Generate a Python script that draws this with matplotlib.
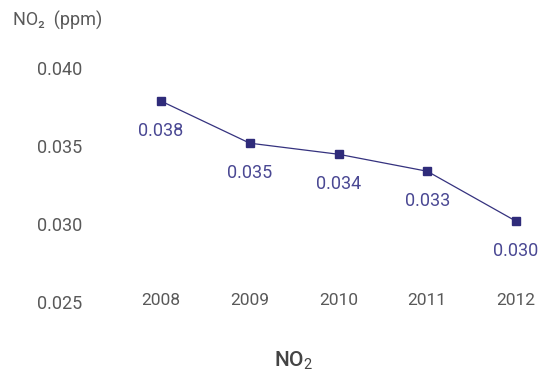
import matplotlib.pyplot as plt

plt.rcParams['font.family'] = ['Roboto', 'DejaVu Sans']
plt.rcParams['mathtext.fontset'] = 'custom'
plt.rcParams['mathtext.rm'] = 'Roboto'
plt.rcParams['mathtext.bf'] = 'Roboto:medium'

years = ['2008', '2009', '2010', '2011', '2012']
no2_ppm = [0.0379, 0.0352, 0.03449, 0.0334, 0.0302]
y_ticks = [0.025, 0.030, 0.035, 0.040]

W, H = 541, 375
fig = plt.figure(figsize=(W / 100, H / 100), dpi=100)

# axes box in pixels: left 100, right 530, top at 0.040, bottom at 0.025
left, right, top, bottom = 100, 530, 68.3, 302.3
ax = fig.add_axes([left / W, 1 - bottom / H, (right - left) / W, (bottom - top) / H])

xs = list(range(len(years)))
ax.plot(xs, no2_ppm, color='#35327f', lw=0.9, marker='s', markersize=6,
        markerfacecolor='#2f2b7a', markeredgecolor='#2f2b7a', clip_on=False)

for x, v in zip(xs, no2_ppm):
    ax.annotate('%.3f' % v, (x, v), xytext=(0, -21.5), textcoords='offset points',
                ha='center', va='center', fontsize=13, color='#4a4893')

# category spacing ~88.75 px, first point at x=161
step = 88.75
x0 = -(161 - left) / step
ax.set_xlim(x0, x0 + (right - left) / step)
ax.set_ylim(0.025, 0.040)

ax.set_xticks(xs)
ax.set_xticklabels(years)
ax.set_yticks(y_ticks)
ax.set_yticklabels(['%.3f' % t for t in y_ticks])
ax.tick_params(axis='y', length=0, pad=13, labelsize=13, labelcolor='#595959')
ax.tick_params(axis='x', length=0, pad=-7, labelsize=12.5, labelcolor='#595959')

for s in ax.spines.values():
    s.set_visible(False)
ax.patch.set_visible(False)

fig.text(13 / W, 1 - 20 / H, 'NO\u2082  (ppm)', ha='left', va='center',
         fontsize=13, color='#595959')
fig.text(294 / W, 1 - 361 / H, 'NO$_2$', ha='center', va='center',
         fontsize=15, fontweight='medium', color='#444444')

fig.savefig('out.png', dpi=100)
